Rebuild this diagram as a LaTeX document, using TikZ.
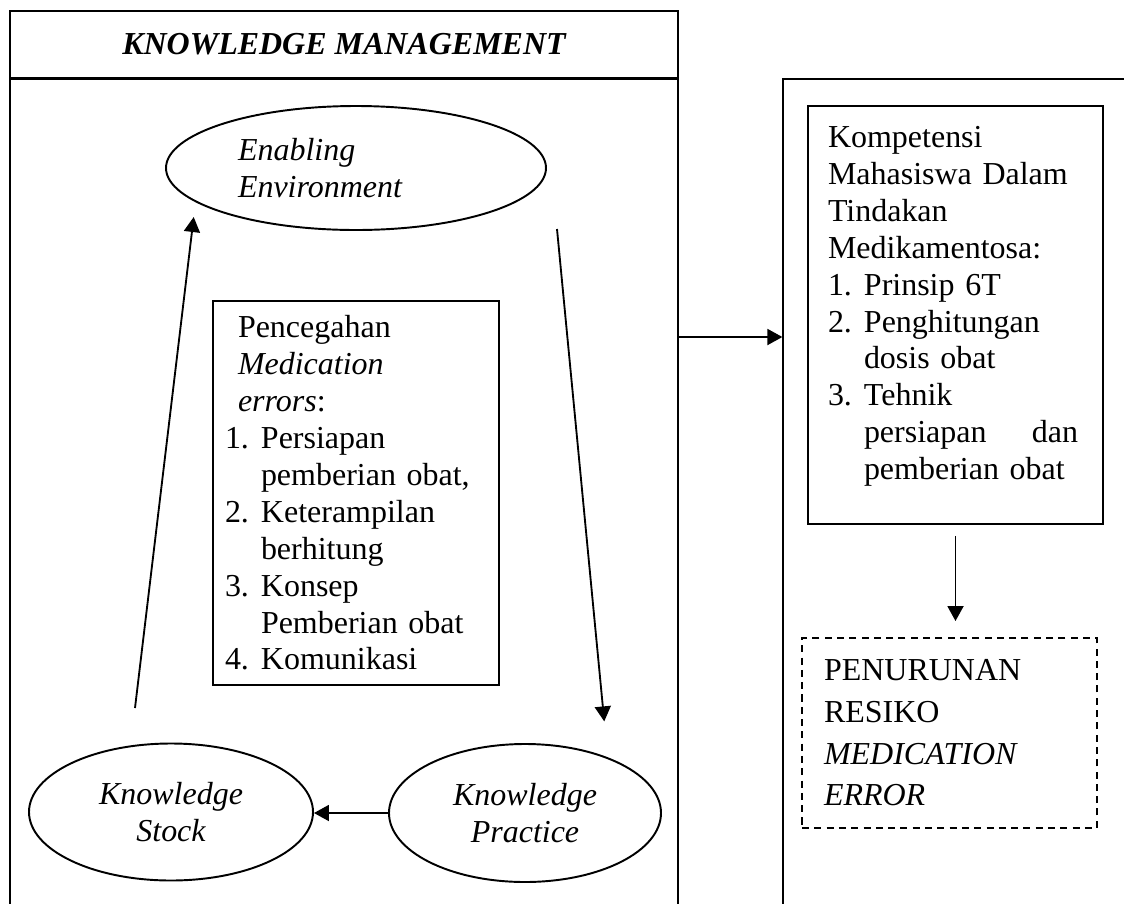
\documentclass[tikz,border=0pt]{standalone}
\usepackage{fontspec}
\setmainfont{Liberation Serif}
\usetikzlibrary{arrows.meta,shapes.geometric}
\newcommand\kmfont{\fontsize{18.2}{21}\selectfont}
\newcommand\nitem[1]{\makebox[0.72cm][l]{#1}}
\newcommand\ncont{\hspace*{0.72cm}}
\tikzset{
  B/.style      = {draw, line width=1.1pt, font=\kmfont, inner sep=0pt},
  frameB/.style = {draw, line width=0.7pt, font=\kmfont, inner sep=0pt},
  listB/.style  = {B, rectangle, align=left},
  ellB/.style   = {B, ellipse, font=\kmfont\itshape},
  resB/.style   = {B, dash pattern=on 4pt off 3pt, align=left,
                   font=\fontsize{18.2}{23.7}\selectfont},
  A/.style      = {-{Triangle[length=0.3cm,width=0.32cm]}, line width=1.05pt},
}
\begin{document}
\begin{tikzpicture}
\useasboundingbox (0,0) rectangle (22.48,-18.06);
\clip (0,0) rectangle (22.48,-18.06);

%% ─── Knowledge management frame ─────────────────────────────
\node[frameB, minimum width=13.36cm, minimum height=1.34cm,
      font=\kmfont\bfseries\itshape] (kmtitle) at (6.88,-0.89)
  {KNOWLEDGE MANAGEMENT};
\node[frameB, minimum width=13.36cm, minimum height=16.96cm] (kmbody)
  at (6.88,-10.06) {};

%% ─── right frame ────────────────────────────────────────────
\node[frameB, minimum width=7.4cm, minimum height=16.94cm] (kpbody)
  at (19.36,-10.05) {};

%% ─── cycle ──────────────────────────────────────────────────
\node[ellB, minimum width=7.6cm, minimum height=2.48cm,
      text width=4.72cm, align=left] (ee) at (7.12,-3.36)
  {Enabling\\Environment};
\node[ellB, minimum width=5.68cm, minimum height=2.74cm, align=center]
  (ks) at (3.42,-16.24) {Knowledge\\Stock};
\node[ellB, minimum width=5.44cm, minimum height=2.76cm, align=center]
  (kpr) at (10.5,-16.26) {Knowledge\\Practice};

\node[listB, minimum width=5.72cm, minimum height=7.68cm,
      text width=5.24cm, inner xsep=0.24cm] (pm) at (7.12,-9.86)
  {\hspace*{0.26cm}Pencegahan\\
   \hspace*{0.26cm}\textit{Medication}\\
   \hspace*{0.26cm}\textit{errors}:\\
   \nitem{1.}Persiapan\\
   \ncont pemberian obat,\\
   \nitem{2.}Keterampilan\\
   \ncont berhitung\\
   \nitem{3.}Konsep\\
   \ncont Pemberian obat\\
   \nitem{4.}Komunikasi};

\coordinate (upstart) at (2.7,-14.16);
\coordinate (dnstart) at (11.14,-4.58);
\draw[A, shorten >=0.3cm] (upstart) -- (ee.192);
\draw[A, shorten >=0.72cm] (dnstart) -- (kpr.34);
\draw[A] (kpr.west) -- (kpr.west -| ks.east);

%% ─── competence ─────────────────────────────────────────────
\node[listB, minimum width=5.9cm, minimum height=8.36cm,
      text width=5.1cm, inner xsep=0.4cm] (kom) at (19.11,-6.3)
  {Kompetensi\\
   Mahasiswa Dalam\\
   Tindakan\\
   Medikamentosa:\\
   \nitem{1.}Prinsip 6T\\
   \nitem{2.}Penghitungan\\
   \ncont dosis obat\\
   \nitem{3.}Tehnik\\
   \ncont\makebox[4.28cm]{persiapan\hfill dan}\\
   \ncont pemberian obat\rule[-0.48cm]{0pt}{0pt}};

\node[resB, minimum width=5.9cm, minimum height=3.8cm,
      text width=5.02cm, inner xsep=0.44cm] (res) at (18.99,-14.66)
  {PENURUNAN\\
   RESIKO\\
   \textit{MEDICATION}\\
   \textit{ERROR}};

\coordinate (hy) at (0,-6.74);
\draw[A] (kmbody.east |- hy) -- (kpbody.west |- hy);
\draw[A, shorten <=0.22cm, shorten >=0.32cm] (kom.south) -- (kom.south |- res.north);

\end{tikzpicture}
\end{document}
